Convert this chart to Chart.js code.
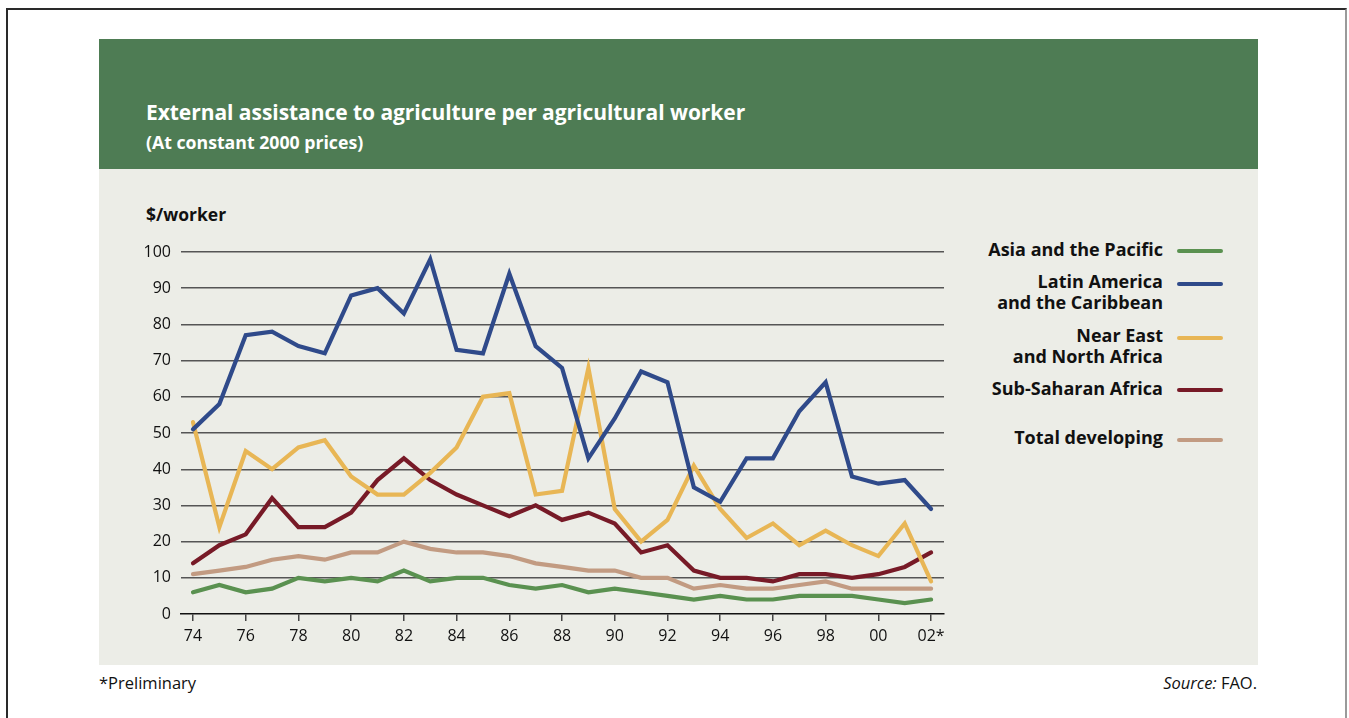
<!DOCTYPE html>
<html>
<head>
<meta charset="utf-8">
<script src="https://cdn.jsdelivr.net/npm/chart.js@4/dist/chart.umd.min.js"></script>
<style>
  html, body { margin: 0; padding: 0; background: #fff; width: 1349px; height: 718px; overflow: hidden; font-family: "Open Sans", "Noto Sans", sans-serif; }
  #frame { position: absolute; left: 6px; top: 8px; width: 1341px; height: 720px; border-left: 2px solid #2a2a2a; border-top: 2px solid #2a2a2a; border-right: 2px solid #9a9a9a; box-sizing: border-box; }
  #header { position: absolute; left: 99px; top: 39px; width: 1159px; height: 130px; background: #4e7c54; }
  #panel { position: absolute; left: 99px; top: 169px; width: 1159px; height: 496px; background: #ecede7; }
  .title { position: absolute; left: 146px; top: 98px; color: #fff; font-weight: 700; font-size: 21px; white-space: nowrap; letter-spacing: -0.05px; }
  .subtitle { position: absolute; left: 146px; top: 130px; color: #fff; font-weight: 700; font-size: 17.7px; white-space: nowrap; }
  .unit { position: absolute; left: 146px; top: 202px; color: #111; font-weight: 700; font-size: 17.5px; white-space: nowrap; }
  #chartCanvas { position: absolute; left: 99px; top: 169px; }
  .leg { position: absolute; right: calc(1349px - 1163px); color: #111; font-weight: 700; font-size: 18px; line-height: 21px; text-align: right; white-space: nowrap; }
  .sw { position: absolute; left: 1177px; width: 46px; height: 4px; border-radius: 2px; }
  .foot { position: absolute; top: 671px; font-size: 16.5px; color: #111; white-space: nowrap; }
</style>
</head>
<body>
<div id="frame"></div>
<div id="header"></div>
<div id="panel"></div>
<div class="title">External assistance to agriculture per agricultural worker</div>
<div class="subtitle">(At constant 2000 prices)</div>
<div class="unit">$/worker</div>
<canvas id="chartCanvas" width="860" height="496"></canvas>
<div id="legend"></div>
<div class="foot" style="left:99px;">*Preliminary</div>
<div class="foot" style="right:calc(1349px - 1257px);"><i>Source:</i> FAO.</div>
<script>
// ---- Data ----
const years = [1974,1975,1976,1977,1978,1979,1980,1981,1982,1983,1984,1985,1986,1987,1988,1989,1990,1991,1992,1993,1994,1995,1996,1997,1998,1999,2000,2001,2002];
const tickYears = [1974,1976,1978,1980,1982,1984,1986,1988,1990,1992,1994,1996,1998,2000,2002];
const tickLabels = ["74","76","78","80","82","84","86","88","90","92","94","96","98","00","02*"];
const yTicks = [0,10,20,30,40,50,60,70,80,90,100];

const seriesNames = ["Asia and the Pacific", "Latin America\nand the Caribbean", "Near East\nand North Africa", "Sub-Saharan Africa", "Total developing"];
const asiaPacific   = [6,8,6,7,10,9,10,9,12,9,10,10,8,7,8,6,7,6,5,4,5,4,4,5,5,5,4,3,4];
const latinAmerica  = [51,58,77,78,74,72,88,90,83,98,73,72,94,74,68,43,54,67,64,35,31,43,43,56,64,38,36,37,29];
const nearEast      = [53,24,45,40,46,48,38,33,33,39,46,60,61,33,34,68,29,20,26,41,29,21,25,19,23,19,16,25,9];
const subSaharan    = [14,19,22,32,24,24,28,37,43,37,33,30,27,30,26,28,25,17,19,12,10,10,9,11,11,10,11,13,17];
const totalDev      = [11,12,13,15,16,15,17,17,20,18,17,17,16,14,13,12,12,10,10,7,8,7,7,8,9,7,7,7,7];

const colors = ["#5a9150", "#2f4a8a", "#e8b655", "#771a27", "#c29b82"];
const seriesData = [asiaPacific, latinAmerica, nearEast, subSaharan, totalDev];

// ---- Legend (HTML) ----
const legendRows = [
  {textTop: 239, swY: 249},
  {textTop: 271, swY: 282},
  {textTop: 325, swY: 336},
  {textTop: 378, swY: 388},
  {textTop: 427, swY: 438}
];
const legendEl = document.getElementById('legend');
seriesNames.forEach((name, i) => {
  const t = document.createElement('div');
  t.className = 'leg';
  t.style.top = legendRows[i].textTop + 'px';
  t.innerHTML = name.split('\n').join('<br>');
  legendEl.appendChild(t);
  const s = document.createElement('div');
  s.className = 'sw';
  s.style.top = legendRows[i].swY + 'px';
  s.style.background = colors[i];
  legendEl.appendChild(s);
});

// ---- Chart ----
const datasets = seriesData.map((vals, i) => ({
  label: seriesNames[i],
  data: years.map((y, k) => ({x: y, y: vals[k]})),
  borderColor: colors[i],
  backgroundColor: colors[i],
  borderWidth: 4.2,
  pointRadius: 0,
  tension: 0,
  borderJoinStyle: 'miter',
  borderCapStyle: 'round',
  fill: false
}));
const order = [3, 0, 1, 2, 4];
datasets.forEach((d, i) => { d.order = order[i]; });

new Chart(document.getElementById('chartCanvas'), {
  type: 'line',
  data: { datasets },
  options: {
    responsive: false,
    animation: false,
    events: [],
    layout: { padding: { top: 83, right: 15, left: 0, bottom: 0 } },
    plugins: { legend: { display: false }, tooltip: { enabled: false }, title: { display: false } },
    scales: {
      x: {
        type: 'linear',
        min: 1973.545,
        max: 2002.49,
        afterBuildTicks: (s) => { s.ticks = tickYears.map(v => ({ value: v })); },
        afterFit: (s) => { s.height = 51; },
        ticks: {
          autoSkip: false,
          maxRotation: 0,
          padding: 6,
          color: '#111',
          font: { family: '"Open Sans", "Noto Sans", sans-serif', size: 16 },
          callback: (v) => { const i = tickYears.indexOf(v); return i >= 0 ? tickLabels[i] : ''; }
        },
        grid: { drawOnChartArea: false, drawTicks: true, tickLength: 7, color: '#444', lineWidth: 1.5 },
        border: { display: true, color: '#111', width: 1.5 }
      },
      y: {
        min: 0,
        max: 100,
        afterBuildTicks: (s) => { s.ticks = yTicks.map(v => ({ value: v })); },
        afterFit: (s) => { s.width = 82; },
        ticks: {
          padding: 10,
          color: '#111',
          font: { family: '"Open Sans", "Noto Sans", sans-serif', size: 16 }
        },
        grid: {
          drawTicks: false,
          color: (ctx) => ctx.tick && ctx.tick.value === 0 ? 'rgba(0,0,0,0)' : '#555',
          lineWidth: 1.4
        },
        border: { display: false }
      }
    }
  }
});
</script>
</body>
</html>
